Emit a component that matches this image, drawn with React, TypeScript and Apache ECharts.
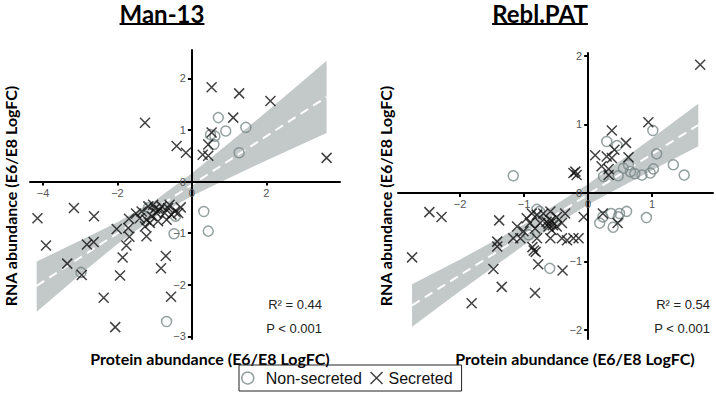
import React, { useEffect, useRef } from "react";
import * as echarts from "echarts";

// ---------- data ----------
const man13Secreted: [number, number][] = [
  [-1.26, 1.14], [0.53, 1.83], [1.27, 1.71], [2.11, 1.56], [1.11, 1.24], [0.53, 0.95],
  [-0.41, 0.69], [-0.16, 0.56], [0.44, 0.72], [0.29, 0.52], [0.44, 0.5], [3.62, 0.46],
  [-4.15, -0.71], [-3.17, -0.51], [-2.63, -0.67], [-3.92, -1.24], [-2.82, -1.22], [-2.64, -1.17],
  [-3.35, -1.59], [-2.96, -1.81], [-2.37, -2.25], [-2.06, -2.82], [-1.93, -1.82], [-1.86, -1.47],
  [-1.76, -1.24], [-1.68, -1.07], [-2.02, -0.92], [-1.22, -1.06], [-0.7, -1.44], [-0.83, -1.68],
  [-0.56, -2.23], [-1.35, -0.58], [-1.17, -0.48], [-1.04, -0.45], [-0.81, -0.48], [-0.64, -0.51],
  [-0.46, -0.58], [-0.37, -0.61], [-1.4, -0.71], [-1.22, -0.74], [-1.08, -0.67], [-0.95, -0.61],
  [-0.73, -0.61], [-0.55, -0.64], [-1.26, -0.87], [-1.13, -0.8], [-0.91, -0.77], [-0.68, -0.74],
  [-1.69, -0.72], [-1.71, -0.9], [-0.88, -0.55], [-0.6, -0.45], [-0.3, -0.5], [-1.5, -0.62],
  [-0.99, -0.52],
];
const man13NonSecreted: [number, number][] = [
  [0.71, 1.24], [0.91, 0.98], [1.45, 1.05], [0.5, 0.91], [0.62, 0.88], [0.59, 0.72],
  [1.27, 0.56], [0.32, -0.58], [0.44, -0.96], [-0.48, -1.01], [-0.68, -2.71], [-2.98, -1.76],
  [-1.17, -0.51], [-0.44, -0.67],
];
const reblSecreted: [number, number][] = [
  [1.75, 1.87], [0.94, 1.03], [0.37, 0.91], [0.59, 0.73], [0.11, 0.55], [0.29, 0.53],
  [0.37, 0.51], [0.41, 0.63], [0.63, 0.52], [0.21, 0.39], [0.32, 0.35], [0.32, 0.26],
  [-0.23, 0.29], [-0.18, 0.26], [-0.2, 0.31],
  [-2.48, -0.28], [-2.29, -0.35], [-2.75, -0.94], [-1.39, -0.4], [-1.42, -0.71], [-1.42, -0.78],
  [-1.48, -1.11], [-1.35, -1.37], [-1.82, -1.61], [-0.83, -1.46], [-0.78, -1.04], [-0.4, -1.13],
  [-0.87, -0.79], [-0.85, -0.84], [-0.82, -0.86], [-1.11, -0.49], [-1.06, -0.66], [-1.01, -0.56],
  [-0.96, -0.37], [-0.88, -0.3], [-0.8, -0.32], [-0.7, -0.3], [-0.59, -0.27], [-0.49, -0.35],
  [-0.36, -0.3], [-0.91, -0.44], [-0.83, -0.52], [-0.75, -0.44], [-0.65, -0.42], [-0.62, -0.49],
  [-0.57, -0.54], [-0.49, -0.49], [-0.41, -0.44], [-0.59, -0.66], [-0.41, -0.66], [-0.33, -0.69],
  [-0.23, -0.66], [-0.15, -0.66], [-0.8, -0.66], [-0.07, -0.35], [0.23, -0.3], [0.46, -0.44],
  [-1.17, -0.66], [-0.62, -0.45], [-0.58, -0.4], [-0.55, -0.47],
];
const reblNonSecreted: [number, number][] = [
  [1.01, 0.91], [0.29, 0.75], [0.45, 0.69], [1.07, 0.57], [1.33, 0.41], [1.5, 0.26],
  [0.63, 0.41], [0.55, 0.36], [0.47, 0.25], [0.66, 0.31], [0.73, 0.28], [0.84, 0.26],
  [0.97, 0.29], [1.02, 0.35], [0.24, 0.24], [-1.17, 0.25], [-0.6, -1.1], [-0.8, -0.24],
  [-0.93, -0.61], [0.23, -0.35], [0.36, -0.3], [0.49, -0.3], [0.6, -0.27], [0.18, -0.44],
  [0.39, -0.5], [0.47, -0.35], [0.91, -0.36], [-0.76, -0.27],
];

// regression fit line end points and confidence band
const man13FitX = [-4.17, 3.62];
const man13FitY = [-2.02, 1.64];
const man13BandX = [-4.17, -3, -2, -1, 0, 1, 2, 3, 3.62];
const man13BandLo = [-2.52, -1.8, -1.21, -0.69, -0.28, 0.07, 0.41, 0.74, 0.94];
const man13BandHi = [-1.55, -1.14, -0.79, -0.37, 0.16, 0.75, 1.35, 1.96, 2.34];

const reblFitX = [-2.75, 1.72];
const reblFitY = [-1.64, 0.99];
const reblBandX = [-2.75, -2, -1, 0, 1, 1.72];
const reblBandLo = [-1.95, -1.43, -0.76, -0.17, 0.33, 0.68];
const reblBandHi = [-1.33, -0.97, -0.46, 0.13, 0.8, 1.3];

// axis ranges and tick labels
const man13XRange = [-4.35, 3.98];
const man13YRange = [-3.05, 2.55];
const reblXRange = [-2.97, 1.95];
const reblYRange = [-2.13, 2.04];
const man13XTicks = [-4, -2, 0, 2];
const man13YTicks = [-3, -2, -1, 0, 1, 2];
const reblXTicks = [-2, -1, 0, 1];
const reblYTicks = [-2, -1, 0, 1, 2];

const panelTitles = ["Man-13", "Rebl.PAT"];
const statsText = [
  ["R\u00B2 = 0.44", "P < 0.001"],
  ["R\u00B2 = 0.54", "P < 0.001"],
];
const xName = "Protein abundance (E6/E8 LogFC)";
const yName = "RNA abundance (E6/E8 LogFC)";
const legendNames = ["Non-secreted", "Secreted"];

// ---------- styling ----------
const BAND = "#c3c8c8";
const CIRCLE = "#7a8888";
const XMARK = "path://M0,0L10,10M10,0L0,10";
const TITLE_FONT = "bold 24px Lato";
const NAME_FONT = "bold 16px Lato";
const STAT_FONT = "13px 'Liberation Sans'";

const grids = [
  { left: 30, top: 50, width: 310, height: 289 },
  { left: 398, top: 53, width: 315, height: 286 },
];

function fmt(v: number) {
  return v < 0 ? "\u2212" + Math.abs(v) : String(v);
}

function measure(text: string, font: string) {
  const c = document.createElement("canvas").getContext("2d");
  if (!c) return text.length * 12;
  c.font = font;
  return c.measureText(text).width;
}

function axisPair(idx: number, xr: number[], yr: number[], xt: number[], yt: number[]) {
  const g = grids[idx];
  const common = {
    gridIndex: idx,
    type: "value" as const,
    z: 10,
    splitLine: { show: false },
    axisLine: { onZero: false, lineStyle: { color: "#000", width: 2 } },
    axisTick: { show: true, length: 4, lineStyle: { color: "#000", width: 2 } },
    axisLabel: {
      color: "#555",
      fontSize: 11,
      fontFamily: "'Liberation Sans', Arial, sans-serif",
      margin: 6,
      formatter: (v: number) => fmt(v),
    },
  };
  // move each axis line onto the other axis's zero
  const xOffset = -((0 - yr[0]) / (yr[1] - yr[0])) * g.height;
  const yOffset = -((0 - xr[0]) / (xr[1] - xr[0])) * g.width;
  const x = {
    ...common,
    position: "bottom",
    offset: xOffset,
    min: xr[0],
    max: xr[1],
    axisTick: { ...common.axisTick, customValues: xt },
    axisLabel: { ...common.axisLabel, customValues: xt },
  };
  const y = {
    ...common,
    position: "left",
    offset: yOffset,
    min: yr[0],
    max: yr[1],
    axisTick: { ...common.axisTick, customValues: yt },
    axisLabel: { ...common.axisLabel, customValues: yt },
  };
  return { x, y };
}

function bandSeries(idx: number, bx: number[], lo: number[], hi: number[]) {
  return {
    type: "custom",
    xAxisIndex: idx,
    yAxisIndex: idx,
    z: 1,
    silent: true,
    data: bx.map((x, i) => [x, lo[i], hi[i]]),
    encode: { x: 0, y: [1, 2] },
    renderItem: (params: any, api: any) => {
      if (params.dataIndex !== 0) return null;
      const pts: number[][] = [];
      for (let i = 0; i < bx.length; i++) pts.push(api.coord([bx[i], hi[i]]));
      for (let i = bx.length - 1; i >= 0; i--) pts.push(api.coord([bx[i], lo[i]]));
      return { type: "polygon", shape: { points: pts }, style: { fill: BAND } };
    },
  };
}

function fitSeries(idx: number, fx: number[], fy: number[]) {
  return {
    type: "line",
    xAxisIndex: idx,
    yAxisIndex: idx,
    z: 2,
    silent: true,
    symbol: "none",
    data: fx.map((x, i) => [x, fy[i]]),
    lineStyle: { color: "#fff", width: 2, type: [9, 6] },
  };
}

function scatterSeries(idx: number, name: string, data: [number, number][]) {
  const secreted = name === "Secreted";
  return {
    type: "scatter",
    name,
    xAxisIndex: idx,
    yAxisIndex: idx,
    z: secreted ? 4 : 3,
    data,
    symbol: secreted ? XMARK : "circle",
    symbolSize: 10,
    itemStyle: secreted
      ? { color: "rgba(0,0,0,0)", borderColor: "#111", borderWidth: 1.5 }
      : { color: "rgba(0,0,0,0)", borderColor: CIRCLE, borderWidth: 1.5 },
  };
}

export default function App() {
  const ref = useRef<HTMLDivElement>(null);
  useEffect(() => {
    if (!ref.current) return;
    const chart = echarts.init(ref.current, undefined, { renderer: "svg" });
    const a0 = axisPair(0, man13XRange, man13YRange, man13XTicks, man13YTicks);
    const a1 = axisPair(1, reblXRange, reblYRange, reblXTicks, reblYTicks);

    const titleCenters = [162, 540];
    const graphics: any[] = [];
    panelTitles.forEach((t, i) => {
      const w = measure(t, TITLE_FONT);
      graphics.push({
        type: "text",
        x: titleCenters[i],
        y: 13,
        style: { text: t, font: TITLE_FONT, fill: "#000", align: "center", verticalAlign: "middle" },
      });
      graphics.push({
        type: "line",
        shape: { x1: titleCenters[i] - w / 2, y1: 24, x2: titleCenters[i] + w / 2, y2: 24 },
        style: { stroke: "#000", lineWidth: 2 },
      });
    });
    const yNameX = [10, 385];
    const xNameX = [210, 575];
    [0, 1].forEach((i) => {
      graphics.push({
        type: "text",
        x: yNameX[i],
        y: 196,
        rotation: Math.PI / 2,
        style: { text: yName, font: NAME_FONT, fill: "#000", align: "center", verticalAlign: "middle" },
      });
      graphics.push({
        type: "text",
        x: xNameX[i],
        y: 358,
        style: { text: xName, font: NAME_FONT, fill: "#000", align: "center", verticalAlign: "middle" },
      });
    });
    const statRight = [322, 710];
    [0, 1].forEach((i) => {
      graphics.push({
        type: "text",
        x: statRight[i],
        y: 304,
        style: { text: statsText[i][0], font: STAT_FONT, fill: "#222", align: "right", verticalAlign: "middle" },
      });
      graphics.push({
        type: "text",
        x: statRight[i],
        y: 328,
        style: { text: statsText[i][1], font: STAT_FONT, fill: "#222", align: "right", verticalAlign: "middle" },
      });
    });

    chart.setOption({
      animation: false,
      grid: grids,
      xAxis: [a0.x, a1.x],
      yAxis: [a0.y, a1.y],
      legend: {
        left: 239,
        top: 365,
        orient: "horizontal",
        padding: [5, 9, 5, 2],
        borderColor: "#222",
        borderWidth: 1,
        itemWidth: 14,
        itemHeight: 12,
        itemGap: 8,
        selectedMode: false,
        textStyle: { fontSize: 16, fontFamily: "'Liberation Sans', Arial, sans-serif", color: "#111" },
        data: [
          {
            name: legendNames[0],
            icon: "circle",
            itemStyle: { color: "rgba(0,0,0,0)", borderColor: CIRCLE, borderWidth: 1.5 },
            textStyle: { padding: [0, 0, 0, 6] },
          },
          {
            name: legendNames[1],
            icon: XMARK,
            itemStyle: { color: "rgba(0,0,0,0)", borderColor: "#111", borderWidth: 1.5 },
          },
        ],
      },
      graphic: graphics,
      series: [
        bandSeries(0, man13BandX, man13BandLo, man13BandHi),
        fitSeries(0, man13FitX, man13FitY),
        scatterSeries(0, legendNames[0], man13NonSecreted),
        scatterSeries(0, legendNames[1], man13Secreted),
        bandSeries(1, reblBandX, reblBandLo, reblBandHi),
        fitSeries(1, reblFitX, reblFitY),
        scatterSeries(1, legendNames[0], reblNonSecreted),
        scatterSeries(1, legendNames[1], reblSecreted),
      ],
    });
    return () => chart.dispose();
  }, []);
  return (
    <div
      ref={ref}
      style={{ position: "fixed", left: 0, top: 0, width: 716, height: 406, background: "#fff" }}
    />
  );
}
